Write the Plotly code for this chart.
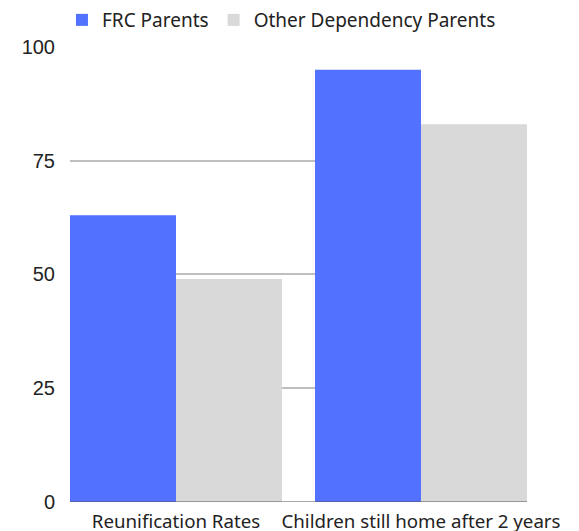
import plotly.graph_objects as go

categories = ["Reunification Rates", "Children still home after 2 years"]
frc_values = [63, 95]
other_values = [49, 83]
series_names = ["FRC Parents", "Other Dependency Parents"]
y_ticks = [0, 25, 50, 75, 100]

gap = 0.1347
y_top = 100.2

fig = go.Figure()
fig.add_trace(go.Bar(x=categories, y=frc_values, name=series_names[0],
                     marker=dict(color="#5271ff", line=dict(width=0))))
fig.add_trace(go.Bar(x=categories, y=other_values, name=series_names[1],
                     marker=dict(color="#d9d9d9", line=dict(width=0))))

fig.update_layout(
    width=571, height=523,
    margin=dict(l=62, r=52, t=37.6, b=28.5),
    paper_bgcolor="white", plot_bgcolor="white",
    barmode="group", bargap=gap, bargroupgap=0.0,
    font=dict(family="Noto Sans", size=16, color="#222222"),
    legend=dict(orientation="h", xref="container", yref="container",
                x=0.0945, xanchor="left", y=0.977, yanchor="middle",
                bgcolor="rgba(0,0,0,0)",
                font=dict(family="Noto Sans", size=19, color="#222222"),
                itemwidth=30, traceorder="normal"),
    xaxis=dict(range=[-0.5 + gap / 2, 1.5 - gap / 2], showgrid=False,
               showline=False, zeroline=False, ticks="", ticklabelstandoff=6,
               automargin=False,
               tickfont=dict(family="Noto Sans", size=18.7, color="#222222")),
    yaxis=dict(range=[0, y_top], tickvals=y_ticks, showgrid=True,
               gridcolor="#bfbfbf", gridwidth=2, zeroline=False,
               showline=False, ticks="", ticklabelstandoff=14, automargin=False,
               tickfont=dict(family="Liberation Sans", size=20, color="#222222")),
    shapes=[dict(type="line", xref="paper", yref="y", x0=0, x1=1, y0=0, y1=0,
                 line=dict(color="#555555", width=1), layer="above")],
)

fig.write_html("out.html")
